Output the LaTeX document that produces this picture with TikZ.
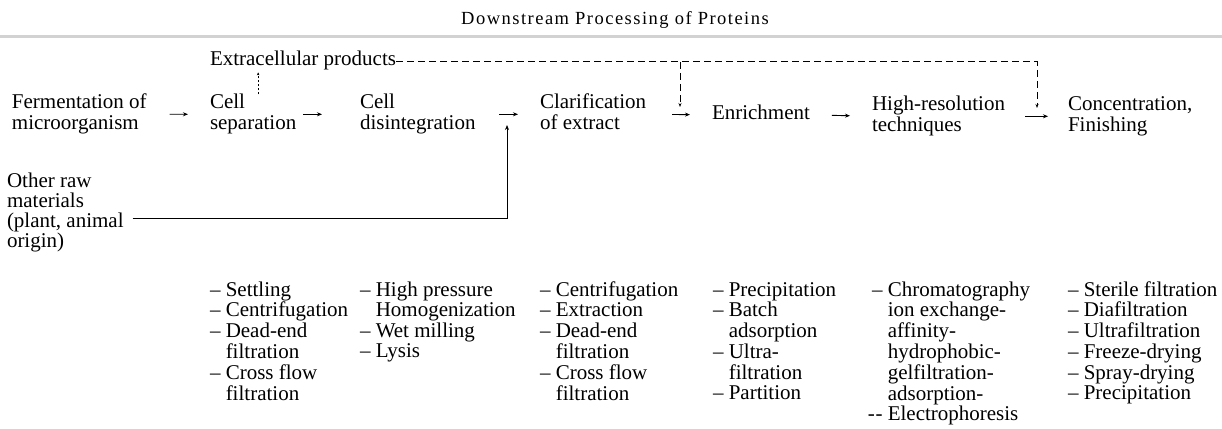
\documentclass[tikz,border=0pt]{standalone}
\usepackage{fontspec}
\setmainfont{Liberation Serif}
\newfontfamily\titlefont[LetterSpace=8]{Liberation Serif}
\usetikzlibrary{arrows.meta}
\newcommand{\lns}[1]{\begin{tabular}[t]{@{}l@{}}#1\end{tabular}}
\newcommand{\itm}[1]{\begin{tabular}[t]{@{}l@{\hspace{0.25em}}l@{}}#1\end{tabular}}
\begin{document}
\begin{tikzpicture}[x=1pt,y=-1pt,
  txt/.style={inner sep=0pt,outer sep=0pt,anchor=base west,font=\fontsize{21}{21}\selectfont},
  lst/.style={inner sep=0pt,outer sep=0pt,anchor=base west,font=\fontsize{21}{20.5}\selectfont},
  flow/.style={-{Stealth[length=5pt,width=4pt]},line width=0.9pt},
  extra/.style={dash pattern=on 7pt off 4pt,line width=0.8pt,-{Stealth[length=4pt,width=3pt]}},
  feed/.style={line width=1pt,-{Stealth[length=5pt,width=4pt]}}]
\fill[white] (0,0) rectangle (1222,428);
\useasboundingbox (0,0) rectangle (1222,428);

% header
\node[txt,anchor=base] (title) at (615,25) {\titlefont\fontsize{18.5}{18.5}\selectfont Downstream Processing of Proteins};
\draw[gray!35,line width=3pt] (0,37) -- (1222,37);

% main row
\node[txt] (ext) at (210,66) {\lns{Extracellular products}};
\node[txt] (ferm) at (12,108) {\lns{Fermentation of\\microorganism}};
\node[txt] (sep) at (210,108) {\lns{Cell\\separation}};
\node[txt] (dis) at (360,108) {\lns{Cell\\disintegration}};
\node[txt] (clar) at (540,108) {\lns{Clarification\\of extract}};
\node[txt] (enr) at (712,119) {\lns{Enrichment}};
\node[txt] (hrt) at (872,110) {\lns{High-resolution\\techniques}};
\node[txt] (conc) at (1068,110) {\lns{Concentration,\\Finishing}};
\node[txt,font=\fontsize{21}{18.5}\selectfont] (raw) at (7,187) {\lns{Other raw\\materials\\(plant, animal\\origin)}};

\draw[flow,shorten <=23pt,shorten >=22pt] (ferm.east) -- (sep.west);
\draw[flow,shorten <=7pt,shorten >=38pt] (sep.east) -- (dis.west);
\draw[flow,shorten <=24pt,shorten >=22pt] (dis.east) -- (clar.west);
\draw[flow,shorten <=26pt,shorten >=22pt] (clar.east) -- (enr.west);
\draw[flow,shorten <=22pt,shorten >=22pt] (enr.east) -- (hrt.west);
\draw[flow,shorten <=20pt,shorten >=20pt] (hrt.east) -- (conc.west);

% extracellular products
\draw[line width=0.6pt,dash pattern=on 2pt off 2pt,-{Stealth[length=3pt,width=2.5pt]}]
  ([xshift=5pt,yshift=-1pt]sep.north) -- ([xshift=5pt]sep.north |- ext.south);
\coordinate (d1) at (680,107);
\coordinate (d2) at (1037,108);
\draw[extra] (ext.east) -| (d2);
\draw[extra] (ext.east -| d1) -- (d1);

% other raw materials
\coordinate (m) at (507,125);
\draw[feed] ([xshift=9pt,yshift=-6pt]raw.east) -| (m);

% method lists
\node[lst] (c1) at (210,296) {\itm{--&Settling\\--&Centrifugation\\--&Dead-end\\&filtration\\--&Cross flow\\&filtration}};
\node[lst] (c2) at (360,296) {\itm{--&High pressure\\&Homogenization\\--&Wet milling\\--&Lysis}};
\node[lst] (c3) at (540,296) {\itm{--&Centrifugation\\--&Extraction\\--&Dead-end\\&filtration\\--&Cross flow\\&filtration}};
\node[lst] (c4) at (713,296) {\itm{--&Precipitation\\--&Batch\\&adsorption\\--&Ultra-\\&filtration\\--&Partition}};
\node[lst] (c5) at (872,296) {\itm{--&Chromatography\\&ion exchange-\\&affinity-\\&hydrophobic-\\&gelfiltration-\\&adsorption-\\\makebox[0.5em][r]{-\kern0.03em-}&Electrophoresis}};
\node[lst] (c6) at (1068,296) {\itm{--&Sterile filtration\\--&Diafiltration\\--&Ultrafiltration\\--&Freeze-drying\\--&Spray-drying\\--&Precipitation}};
\end{tikzpicture}
\end{document}
